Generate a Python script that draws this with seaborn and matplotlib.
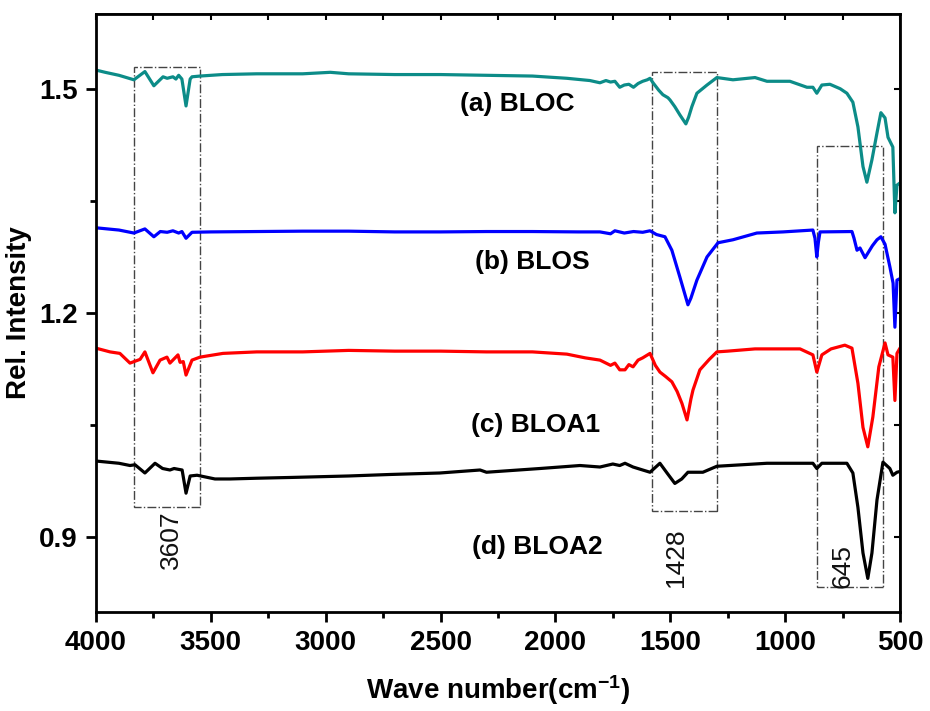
import pandas as pd
import matplotlib
matplotlib.use("Agg")
import matplotlib.pyplot as plt
from matplotlib.patches import Rectangle
from matplotlib.ticker import MultipleLocator
import seaborn as sns

# FTIR spectra, (wavenumber, rel. intensity)
bloc_wn = [4000, 3960, 3900, 3835, 3787, 3748, 3708, 3690, 3678, 3665, 3652, 3640, 3626, 3608, 3590,
           3582, 3547, 3450, 3300, 3100, 2980, 2900, 2700, 2500, 2300, 2100, 1950, 1850, 1806, 1780,
           1760, 1741, 1720, 1700, 1680, 1660, 1640, 1620, 1600, 1588, 1575, 1550, 1532, 1510, 1501,
           1480, 1458, 1432, 1420, 1406, 1384, 1340, 1297, 1227, 1131, 1079, 979, 905, 879, 862, 840,
           805, 760, 731, 705, 683, 661, 644, 622, 600, 583, 565, 552, 531, 522, 513, 500]
bloc_val = [1.525, 1.522, 1.518, 1.512, 1.523, 1.504, 1.516, 1.514, 1.515, 1.516, 1.513, 1.518, 1.513,
            1.477, 1.513, 1.516, 1.517, 1.519, 1.520, 1.520, 1.522, 1.520, 1.519, 1.519, 1.518, 1.517,
            1.514, 1.511, 1.508, 1.511, 1.509, 1.510, 1.502, 1.505, 1.506, 1.502, 1.507, 1.510, 1.512,
            1.514, 1.508, 1.498, 1.492, 1.488, 1.485, 1.476, 1.465, 1.453, 1.462, 1.476, 1.494, 1.505,
            1.515, 1.512, 1.515, 1.510, 1.510, 1.502, 1.502, 1.494, 1.505, 1.506, 1.500, 1.494, 1.482,
            1.449, 1.396, 1.375, 1.405, 1.441, 1.468, 1.461, 1.435, 1.422, 1.334, 1.371, 1.374]

blos_wn = [4000, 3900, 3835, 3787, 3748, 3720, 3690, 3665, 3640, 3626, 3608, 3582, 3500, 3300, 3100,
           2900, 2700, 2500, 2300, 2100, 1900, 1806, 1760, 1741, 1700, 1660, 1620, 1588, 1560, 1523,
           1493, 1458, 1423, 1410, 1384, 1340, 1292, 1227, 1123, 1009, 879, 870, 862, 855, 848, 709,
           700, 687, 674, 652, 620, 600, 583, 565, 544, 530, 522, 513, 500]
blos_val = [1.314, 1.311, 1.307, 1.3125, 1.302, 1.309, 1.308, 1.310, 1.307, 1.309, 1.300, 1.308, 1.3085,
            1.309, 1.3095, 1.3095, 1.3085, 1.3085, 1.309, 1.309, 1.3085, 1.3085, 1.306, 1.310, 1.307,
            1.309, 1.308, 1.310, 1.305, 1.302, 1.284, 1.248, 1.211, 1.220, 1.244, 1.275, 1.294, 1.298,
            1.307, 1.3085, 1.311, 1.300, 1.275, 1.295, 1.3085, 1.309, 1.300, 1.284, 1.287, 1.274,
            1.290, 1.298, 1.302, 1.292, 1.262, 1.240, 1.181, 1.244, 1.246]

bloa1_wn = [4000, 3939, 3896, 3852, 3808, 3787, 3752, 3721, 3691, 3678, 3643, 3634, 3620, 3608, 3582,
            3547, 3447, 3300, 3100, 2900, 2700, 2500, 2300, 2100, 1950, 1870, 1806, 1760, 1741, 1720,
            1697, 1680, 1662, 1640, 1620, 1588, 1565, 1545, 1520, 1493, 1470, 1449, 1427, 1410, 1401,
            1371, 1330, 1297, 1250, 1131, 935, 879, 862, 840, 800, 740, 709, 683, 661, 640, 618, 592,
            565, 552, 531, 522, 513, 500]
bloa1_val = [1.153, 1.148, 1.146, 1.133, 1.138, 1.148, 1.120, 1.137, 1.141, 1.133, 1.144, 1.134, 1.135,
             1.117, 1.137, 1.141, 1.146, 1.148, 1.148, 1.150, 1.149, 1.149, 1.148, 1.148, 1.145, 1.140,
             1.137, 1.130, 1.133, 1.124, 1.124, 1.131, 1.128, 1.137, 1.140, 1.146, 1.130, 1.121, 1.115,
             1.108, 1.095, 1.079, 1.057, 1.085, 1.097, 1.124, 1.138, 1.148, 1.149, 1.152, 1.152, 1.144,
             1.121, 1.144, 1.152, 1.157, 1.153, 1.106, 1.047, 1.021, 1.061, 1.128, 1.160, 1.144, 1.141,
             1.083, 1.146, 1.153]

bloa2_wn = [4000, 3900, 3852, 3830, 3787, 3743, 3710, 3678, 3660, 3643, 3625, 3608, 3590, 3560, 3482,
            3417, 3300, 3156, 2900, 2720, 2503, 2328, 2300, 2067, 1893, 1806, 1750, 1720, 1697, 1662,
            1620, 1588, 1545, 1514, 1480, 1450, 1423, 1358, 1297, 1079, 879, 862, 840, 731, 705, 683,
            661, 640, 622, 600, 574, 544, 531, 513, 500]
bloa2_val = [1.002, 0.999, 0.996, 0.997, 0.986, 0.999, 0.992, 0.990, 0.992, 0.991, 0.990, 0.959, 0.982,
             0.983, 0.978, 0.978, 0.979, 0.980, 0.982, 0.984, 0.986, 0.990, 0.987, 0.992, 0.996, 0.994,
             0.998, 0.996, 0.999, 0.994, 0.990, 0.987, 0.999, 0.986, 0.972, 0.978, 0.987, 0.987, 0.995,
             0.999, 0.999, 0.992, 0.999, 0.999, 0.986, 0.940, 0.879, 0.845, 0.879, 0.950, 1.0005,
             0.992, 0.983, 0.987, 0.988]

series_names = ["(a) BLOC", "(b) BLOS", "(c) BLOA1", "(d) BLOA2"]
series_colors = ["#0c8c88", "#0000ff", "#ff0000", "#000000"]
label_pos = [(2167, 1.480), (2102, 1.268), (2085, 1.050), (2080, 0.887)]

# highlighted bands: (wn_left, wn_right, y_bottom, y_top) and their peak labels
boxes = [(3835, 3547, 0.940, 1.5295), (1580, 1297, 0.935, 1.523), (862, 574, 0.834, 1.424)]
peak_labels = ["3607", "1428", "645"]
peak_label_pos = [(3674, 0.897), (1475, 0.873), (748, 0.862)]

frames = []
for name, wn, val in zip(series_names,
                         [bloc_wn, blos_wn, bloa1_wn, bloa2_wn],
                         [bloc_val, blos_val, bloa1_val, bloa2_val]):
    frames.append(pd.DataFrame({"wn": wn, "val": val, "sample": name}))
df = pd.concat(frames, ignore_index=True)

sns.set_theme(style="ticks")
plt.rcParams["font.family"] = ["Liberation Sans", "DejaVu Sans"]
plt.rcParams["font.weight"] = "bold"
plt.rcParams["mathtext.default"] = "regular"
plt.rcParams["text.color"] = "black"
plt.rcParams["axes.labelcolor"] = "black"
plt.rcParams["xtick.color"] = "black"
plt.rcParams["ytick.color"] = "black"

fig = plt.figure(figsize=(9.3, 7.11), dpi=100)
ax = fig.add_axes([0.1032, 0.1392, 0.8645, 0.8411])

sns.lineplot(data=df, x="wn", y="val", hue="sample", palette=series_colors,
             sort=False, estimator=None, linewidth=2.3, legend=False, ax=ax)

for (x0, x1, y0, y1) in boxes:
    ax.add_patch(Rectangle((x1, y0), x0 - x1, y1 - y0, fill=False,
                           edgecolor="#444444", linestyle="-.", linewidth=1.0))

for txt, (x, y) in zip(peak_labels, peak_label_pos):
    ax.text(x, y, txt, rotation=90, ha="center", va="center", fontsize=19,
            fontweight="normal", color="#111111")

for txt, (x, y) in zip(series_names, label_pos):
    ax.text(x, y, txt, ha="center", va="center", fontsize=19, fontweight="bold", color="black")

ax.set_xlim(4000, 500)
ax.set_ylim(0.8, 1.6)
ax.xaxis.set_major_locator(MultipleLocator(500))
ax.xaxis.set_minor_locator(MultipleLocator(250))
ax.yaxis.set_minor_locator(MultipleLocator(0.15))
ax.set_yticks([0.9, 1.2, 1.5])

for sp in ax.spines.values():
    sp.set_linewidth(2)
    sp.set_color("black")

ax.tick_params(which="major", direction="out", length=7, width=2, labelsize=20, pad=6)
ax.tick_params(which="minor", direction="out", length=4, width=2)
for lab in ax.get_xticklabels() + ax.get_yticklabels():
    lab.set_fontweight("bold")

top = ax.secondary_xaxis("top")
top.xaxis.set_major_locator(MultipleLocator(250))
top.tick_params(direction="in", length=4, width=1.5, labeltop=False)
right = ax.secondary_yaxis("right")
right.yaxis.set_major_locator(MultipleLocator(0.15))
right.tick_params(direction="in", length=4, width=1.5, labelright=False)

ax.set_xlabel("Wave number(cm$^{-1}$)", fontsize=20, fontweight="bold", labelpad=12)
ax.set_ylabel("Rel. Intensity", fontsize=20, fontweight="bold")
ax.yaxis.set_label_coords(-0.079, 0.5)

fig.savefig("out.png", dpi=100)
